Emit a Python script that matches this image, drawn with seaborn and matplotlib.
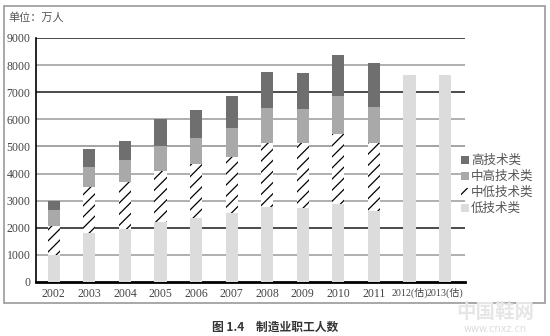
import numpy as np
import pandas as pd
import matplotlib
matplotlib.use("Agg")
import matplotlib.pyplot as plt
import seaborn as sns
from matplotlib.patches import Rectangle, Patch

# ---------------- data ----------------
years = ["2002", "2003", "2004", "2005", "2006", "2007", "2008", "2009",
         "2010", "2011", "2012(估)", "2013(估)"]
low = [1000, 1820, 1945, 2200, 2350, 2530, 2750, 2720, 2880, 2630, 7640, 7640]
mid_low = [1070, 1670, 1735, 1910, 1990, 2090, 2370, 2420, 2570, 2490, 0, 0]
mid_high = [580, 760, 820, 920, 960, 1070, 1280, 1240, 1410, 1350, 0, 0]
high = [350, 650, 710, 970, 1050, 1160, 1360, 1340, 1520, 1600, 0, 0]
series_names = ["高技术类", "中高技术类", "中低技术类", "低技术类"]
yticks = list(range(0, 9001, 1000))

# ---------------- style ----------------
sns.set_theme(style="white")
plt.rcParams["font.family"] = ["Liberation Serif", "Noto Sans CJK SC", "DejaVu Sans"]
plt.rcParams["hatch.linewidth"] = 0.9
plt.rcParams["hatch.color"] = "black"

c_high = "#6f6f6f"
c_mhigh = "#a9a9a9"
c_low = "#dcdcdc"

fig = plt.figure(figsize=(5.5, 3.36), dpi=100)
ax = fig.add_axes([36 / 550, 54 / 336, 429 / 550, 244 / 336])

df = pd.DataFrame({"year": years, "low": low, "mid_low": mid_low,
                   "mid_high": mid_high, "high": high})
df["c1"] = df["low"]
df["c2"] = df["c1"] + df["mid_low"]
df["c3"] = df["c2"] + df["mid_high"]
df["c4"] = df["c3"] + df["high"]

W = 0.34
sns.barplot(data=df, x="year", y="c4", color=c_high, saturation=1, width=W,
            ax=ax, linewidth=0, zorder=2)
sns.barplot(data=df, x="year", y="c3", color=c_mhigh, saturation=1, width=W,
            ax=ax, linewidth=0, zorder=3)
n_before = len(ax.patches)
sns.barplot(data=df, x="year", y="c2", color="white", saturation=1, width=W,
            ax=ax, linewidth=0, zorder=4)
for p in ax.patches[n_before:]:
    p.set_hatch("///")
    p.set_edgecolor("black")
    p.set_linewidth(0)
sns.barplot(data=df, x="year", y="c1", color=c_low, saturation=1, width=W,
            ax=ax, linewidth=0, zorder=5)

# gridlines
grid_cols = {1000: "#9a9a9a", 2000: "#1a1a1a", 3000: "#9a9a9a", 4000: "#9a9a9a",
             5000: "#8a8a8a", 6000: "#9a9a9a", 7000: "#1a1a1a", 8000: "#9a9a9a",
             9000: "#1a1a1a"}
for y in yticks[1:]:
    ax.axhline(y, color=grid_cols[y], lw=1.1, zorder=0)

ax.set_xlim(-0.45, 11.56)
ax.set_ylim(0, 9000)
ax.set_yticks(yticks)
ax.set_yticklabels([str(v) for v in yticks])
ax.set_xlabel("")
ax.set_ylabel("")
for s in ["top", "right"]:
    ax.spines[s].set_visible(False)
ax.spines["left"].set_color("black")
ax.spines["left"].set_linewidth(1.2)
ax.spines["bottom"].set_color("black")
ax.spines["bottom"].set_linewidth(2)
ax.set_xticks(np.arange(-0.5, 12, 1), minor=True)
ax.tick_params(axis="x", which="major", length=0, pad=4, labelsize=8.5,
               labelcolor="#444444")
ax.tick_params(axis="x", which="minor", length=3, width=1, color="black",
               direction="out")
ax.tick_params(axis="y", which="major", length=3, width=1, color="black",
               direction="out", pad=1, labelsize=8.5, labelcolor="#444444")
for lbl in ax.get_xticklabels()[-2:]:
    lbl.set_fontsize(7.2)
ax.grid(False)

# outer frame
fig.add_artist(Rectangle((4 / 550, 33 / 336), 541 / 550, 297 / 336,
                         transform=fig.transFigure, fill=False,
                         edgecolor="#9a9a9a", lw=1.2))

fig.text(8 / 550, 1 - 18 / 336, "单位：万人", fontsize=8,
         family=["Noto Sans CJK SC"], color="#555555", va="center")

handles = [Patch(facecolor=c_high, edgecolor="none"),
           Patch(facecolor=c_mhigh, edgecolor="none"),
           Patch(facecolor="white", edgecolor="black", hatch="///", linewidth=0),
           Patch(facecolor=c_low, edgecolor="none")]
leg = fig.legend(handles, series_names, loc="upper left",
                 bbox_to_anchor=(461 / 550, 1 - 154 / 336), frameon=False,
                 prop={"family": "Noto Sans CJK SC", "size": 9},
                 handlelength=0.6, handleheight=0.6, handletextpad=0.2,
                 labelspacing=0.25, borderpad=0, borderaxespad=0)
for t in leg.get_texts():
    t.set_color("#555555")

fig.text(275 / 550, 1 - 327 / 336, "图 1.4　制造业职工人数", fontsize=8.5,
         fontweight="bold", family=["Noto Sans CJK SC"], color="#333333",
         ha="center", va="center")

# watermark
fig.text(495 / 550, 1 - 312 / 336, "中国鞋网", fontsize=14, fontweight="bold",
         family=["Noto Sans CJK SC"], color="#e6e6e6", ha="center", va="center")
fig.text(495 / 550, 1 - 329 / 336, "www.cnxz.cn", fontsize=7,
         family=["DejaVu Sans"], color="#dddddd", ha="center", va="center")

fig.savefig("out.png", dpi=100)
